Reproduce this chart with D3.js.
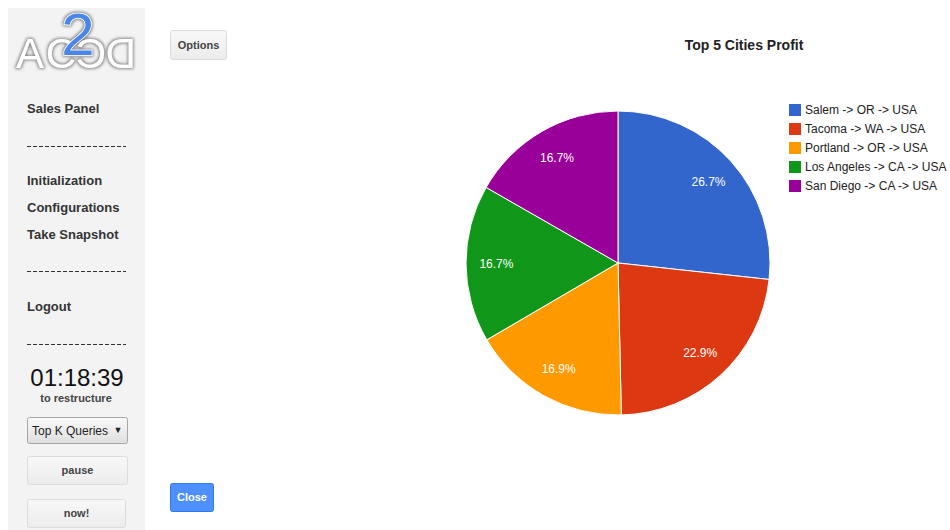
<!DOCTYPE html>
<html>
<head>
<meta charset="utf-8">
<script src="https://cdn.jsdelivr.net/npm/d3@7"></script>
<style>
  html, body { margin: 0; padding: 0; background: #fff; }
  svg { display: block; }
  text { font-family: "Liberation Sans", Arial, sans-serif; }
</style>
</head>
<body>
<svg id="page" width="950" height="530"></svg>
<script>
// Chart data
const cities = [
  "Salem -> OR -> USA",
  "Tacoma -> WA -> USA",
  "Portland -> OR -> USA",
  "Los Angeles -> CA -> USA",
  "San Diego -> CA -> USA"
];
const profitShare = [26.7, 22.9, 16.9, 16.7, 16.7];
const sliceColors = ["#3366cc", "#dc3912", "#ff9900", "#109618", "#990099"];
const chartTitle = "Top 5 Cities Profit";

// Side panel content
const menuTop = ["Sales Panel"];
const menuMiddle = ["Initialization", "Configurations", "Take Snapshot"];
const menuBottom = ["Logout"];
const countdown = "01:18:39";

const svg = d3.select("#page");
const defs = svg.append("defs");

// soft grey glow used by the logo letters
const glow = defs.append("filter").attr("id", "glow")
  .attr("x", "-20%").attr("y", "-20%").attr("width", "140%").attr("height", "140%");
glow.append("feMorphology").attr("in", "SourceAlpha").attr("operator", "dilate").attr("radius", 1).attr("result", "fat");
glow.append("feGaussianBlur").attr("in", "fat").attr("stdDeviation", 1.6).attr("result", "blur");
glow.append("feFlood").attr("flood-color", "#7a7a7a").attr("flood-opacity", 0.9);
glow.append("feComposite").attr("in2", "blur").attr("operator", "in").attr("result", "shadow");
const gm = glow.append("feMerge");
gm.append("feMergeNode").attr("in", "shadow");
gm.append("feMergeNode").attr("in", "SourceGraphic");

const btnGrad = defs.append("linearGradient").attr("id", "btnGrad").attr("x1", 0).attr("y1", 0).attr("x2", 0).attr("y2", 1);
btnGrad.append("stop").attr("offset", "0%").attr("stop-color", "#f8f8f8");
btnGrad.append("stop").attr("offset", "100%").attr("stop-color", "#ececec");

const selGrad = defs.append("linearGradient").attr("id", "selGrad").attr("x1", 0).attr("y1", 0).attr("x2", 0).attr("y2", 1);
selGrad.append("stop").attr("offset", "0%").attr("stop-color", "#fafafa");
selGrad.append("stop").attr("offset", "100%").attr("stop-color", "#dedede");

// ---------- side panel ----------
const side = svg.append("g");
side.append("rect").attr("x", 8).attr("y", 8).attr("width", 137).attr("height", 530).attr("fill", "#f3f3f3");

// logo
const logo = side.append("g").attr("filter", "url(#glow)");
logo.append("text").attr("x", 16).attr("y", 68)
  .attr("font-family", "'DejaVu Sans', sans-serif").attr("font-weight", 200)
  .attr("font-size", 42).attr("fill", "#fff").attr("textLength", 60)
  .text("AC");
logo.append("text")
  .attr("transform", "translate(136,68) scale(-1,1)")
  .attr("font-family", "'DejaVu Sans', sans-serif").attr("font-weight", 200)
  .attr("font-size", 42).attr("fill", "#fff").attr("textLength", 60)
  .text("DC");
logo.append("text").attr("x", 78).attr("y", 55).attr("text-anchor", "middle")
  .attr("font-family", "'DejaVu Sans', sans-serif").attr("font-weight", 400)
  .attr("font-size", 60).attr("fill", "#4a86e8")
  .attr("stroke", "#fff").attr("stroke-width", 1.5).attr("paint-order", "stroke")
  .text("2");

const menuText = (label, y) => side.append("text")
  .attr("x", 27).attr("y", y).attr("dy", "0.35em")
  .attr("font-size", 13).attr("font-weight", "bold").attr("fill", "#333")
  .text(label);
const dashLine = y => side.append("line")
  .attr("x1", 27).attr("x2", 126).attr("y1", y).attr("y2", y)
  .attr("stroke", "#333").attr("stroke-width", 1).attr("stroke-dasharray", "4,2");

menuTop.forEach((m, i) => menuText(m, 108 + i * 27));
dashLine(146.5);
menuMiddle.forEach((m, i) => menuText(m, 180 + i * 27));
dashLine(271.5);
menuBottom.forEach((m, i) => menuText(m, 306 + i * 27));
dashLine(344.5);

side.append("text").attr("x", 77).attr("y", 378).attr("dy", "0.35em").attr("text-anchor", "middle")
  .attr("font-size", 24).attr("fill", "#111").text(countdown);
side.append("text").attr("x", 76).attr("y", 398).attr("dy", "0.35em").attr("text-anchor", "middle")
  .attr("font-size", 11).attr("font-weight", "bold").attr("fill", "#444").text("to restructure");

// dropdown
side.append("rect").attr("x", 27.5).attr("y", 417.5).attr("width", 100).attr("height", 26).attr("rx", 2)
  .attr("fill", "url(#selGrad)").attr("stroke", "#a6a6a6");
side.append("text").attr("x", 32).attr("y", 430.5).attr("dy", "0.35em")
  .attr("font-size", 12).attr("fill", "#222").text("Top K Queries");
side.append("text").attr("x", 118).attr("y", 430).attr("dy", "0.35em").attr("text-anchor", "middle")
  .attr("font-size", 9).attr("fill", "#222").text("▼");

// small grey buttons
const greyButton = (x, y, w, h, label, fs) => {
  side.append("rect").attr("x", x + 0.5).attr("y", y + 0.5).attr("width", w).attr("height", h).attr("rx", 2)
    .attr("fill", "url(#btnGrad)").attr("stroke", "#dcdcdc");
  side.append("text").attr("x", x + w / 2 + 0.5).attr("y", y + h / 2 + 0.5).attr("dy", "0.35em").attr("text-anchor", "middle")
    .attr("font-size", fs).attr("font-weight", "bold").attr("fill", "#444").text(label);
};
greyButton(27, 456, 100, 28, "pause", 11);
greyButton(27, 499, 98, 28, "now!", 11);
greyButton(170, 30, 56, 29, "Options", 11);

// blue close button
svg.append("rect").attr("x", 170.5).attr("y", 483.5).attr("width", 43).attr("height", 28).attr("rx", 2)
  .attr("fill", "#4d90fe").attr("stroke", "#3079ed");
svg.append("text").attr("x", 192).attr("y", 497.5).attr("dy", "0.35em").attr("text-anchor", "middle")
  .attr("font-size", 11).attr("font-weight", "bold").attr("fill", "#fff").text("Close");

// ---------- pie chart ----------
svg.append("text").attr("x", 744).attr("y", 45).attr("dy", "0.35em").attr("text-anchor", "middle")
  .attr("font-size", 14).attr("font-weight", "bold").attr("fill", "#222").text(chartTitle);

const cx = 618, cy = 263, radius = 152;
const rows = cities.map((c, i) => ({ city: c, value: profitShare[i], color: sliceColors[i] }));
const pie = d3.pie().sort(null).value(d => d.value);
const arcs = pie(rows);
const arc = d3.arc().innerRadius(0).outerRadius(radius);
const labelArc = d3.arc().innerRadius(radius * 0.8).outerRadius(radius * 0.8);

const pg = svg.append("g").attr("transform", `translate(${cx},${cy})`);
pg.selectAll("path.slice").data(arcs).join("path")
  .attr("class", "slice")
  .attr("d", arc)
  .attr("fill", d => d.data.color)
  .attr("stroke", "#fff").attr("stroke-width", 1);

pg.selectAll("text.pct").data(arcs).join("text")
  .attr("class", "pct")
  .attr("transform", d => `translate(${labelArc.centroid(d)})`)
  .attr("text-anchor", "middle").attr("dy", "0.35em")
  .attr("font-size", 12).attr("fill", "#fff")
  .text(d => d3.format(".1f")(d.data.value) + "%");

// legend
const lg = svg.append("g").attr("transform", "translate(789,110)");
const item = lg.selectAll("g").data(rows).join("g")
  .attr("transform", (d, i) => `translate(0,${i * 19})`);
item.append("rect").attr("x", 0).attr("y", -6).attr("width", 12).attr("height", 12).attr("fill", d => d.color);
item.append("text").attr("x", 16).attr("y", 0).attr("dy", "0.35em")
  .attr("font-size", 12).attr("fill", "#222").text(d => d.city);
</script>
</body>
</html>
